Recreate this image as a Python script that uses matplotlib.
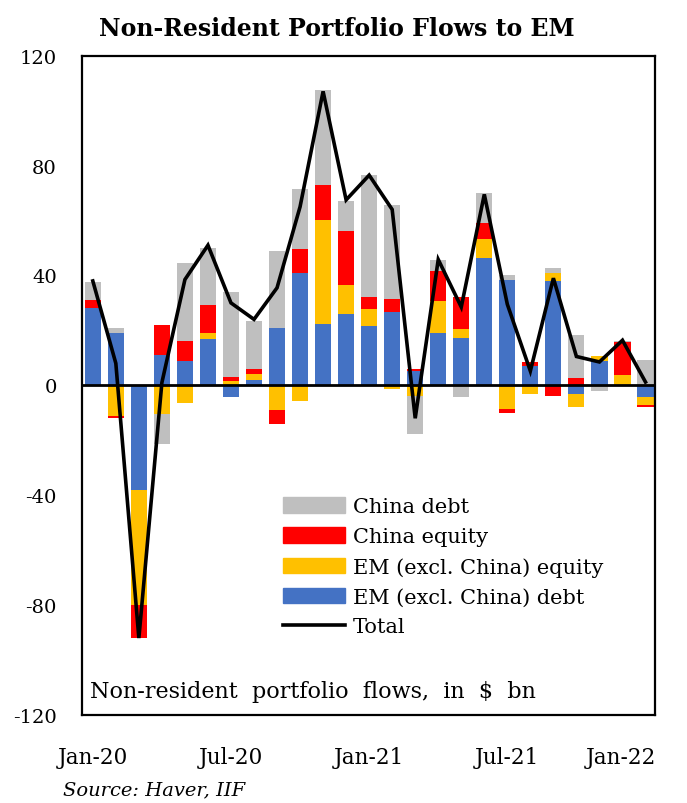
import numpy as np
import matplotlib
matplotlib.use("Agg")
import matplotlib.pyplot as plt
import matplotlib.transforms as mtransforms
from matplotlib.patches import Patch
from matplotlib.lines import Line2D

plt.rcParams["font.family"] = ["DejaVu Serif"]

# Monthly non-resident portfolio flows, $ bn (Jan-20 .. Jan-22)
months = ["Jan-20", "Feb-20", "Mar-20", "Apr-20", "May-20", "Jun-20", "Jul-20",
          "Aug-20", "Sep-20", "Oct-20", "Nov-20", "Dec-20", "Jan-21", "Feb-21",
          "Mar-21", "Apr-21", "May-21", "Jun-21", "Jul-21", "Aug-21", "Sep-21",
          "Oct-21", "Nov-21", "Dec-21", "Jan-22"]
em_debt = [28, 19, -38, 11, 9, 16.7, -4.2, 2, 21, 41, 22.2, 25.8, 21.6, 26.7,
           5.2, 19.2, 17.3, 46.4, 38.3, 7, 37.9, -3, 9, 0, -4.2]
em_equity = [0, -11, -42, -10.5, -6.3, 2.2, 1.5, 2, -9, -5.7, 37.9, 10.6, 6.3, -1.5,
             -3.9, 11.5, 3.3, 6.7, -8.7, -3.3, 3, -4.8, 1.5, 3.6, -2.8]
china_equity = [3, -1, -12, 11, 7, 10.2, 1.5, 2, -5, 8.7, 13, 19.7, 4.3, 4.8,
                0.8, 10.9, 11.6, 6.1, -1.5, 1.5, -3.9, 2.7, 0, 12.1, -0.8]
china_debt = [6.5, 2, 0, -11, 28.7, 21, 31, 17.4, 28, 21.8, 34.5, 10.9, 44.5, 34,
              -14, 4.2, -4.2, 10.8, 1.7, 0, 1.8, 15.8, -2, 0.6, 9.1]
total = [38, 8, -92, 1, 38.5, 51, 30, 24, 35.5, 65, 107, 67.5, 76.5, 64,
         -12, 45.8, 28.5, 69.5, 29.5, 5.2, 39, 10.5, 8.5, 16.4, 1.2]

tick_labels = ["Jan-20", "Jul-20", "Jan-21", "Jul-21", "Jan-22"]

series = [("EM (excl. China) debt", em_debt, "#4472C4"),
          ("EM (excl. China) equity", em_equity, "#FFC000"),
          ("China equity", china_equity, "#FF0000"),
          ("China debt", china_debt, "#BFBFBF")]

fig = plt.figure(figsize=(6.87, 8.04), dpi=100)
ax = fig.add_axes([0.119, 0.1095, 0.834, 0.82])

x = np.arange(len(months))
pos_base = np.zeros(len(months))
neg_base = np.zeros(len(months))
for name, vals, col in series:
    v = np.array(vals, dtype=float)
    p = np.where(v > 0, v, 0)
    n = np.where(v < 0, v, 0)
    ax.bar(x, p, bottom=pos_base, width=0.7, color=col, linewidth=0)
    ax.bar(x, n, bottom=neg_base, width=0.7, color=col, linewidth=0)
    pos_base += p
    neg_base += n

ax.axhline(0, color="black", lw=2, zorder=3)
ax.plot(x, total, color="black", lw=2.6, zorder=4, solid_joinstyle="miter")

ax.set_xlim(-0.48, 24.4)
ax.set_ylim(-120, 120)
ax.set_yticks([-120, -80, -40, 0, 40, 80, 120])
ax.set_yticklabels(["-120", "-80", "-40", "0", "40", "80", "120"])
ax.set_xticks([0, 6, 12, 18, 24])
ax.set_xticklabels(tick_labels)
ax.tick_params(axis="both", length=0)
ax.tick_params(axis="y", pad=18, labelsize=14)
ax.tick_params(axis="x", pad=22, labelsize=15.5)
# last label sits pulled in toward the plot edge, as in the source chart
last = ax.get_xticklabels()[-1]
last.set_transform(last.get_transform() +
                   mtransforms.ScaledTranslation(-0.25, 0, fig.dpi_scale_trans))
for s in ax.spines.values():
    s.set_linewidth(1.6)
    s.set_color("black")

handles = [Patch(color="#BFBFBF", label="China debt"),
           Patch(color="#FF0000", label="China equity"),
           Patch(color="#FFC000", label="EM (excl. China) equity"),
           Patch(color="#4472C4", label="EM (excl. China) debt"),
           Line2D([0], [0], color="black", lw=2.6, label="Total")]
ax.legend(handles=handles, loc="upper left", bbox_to_anchor=(0.351, 0.33),
          frameon=False, fontsize=15, handlelength=3.0, handleheight=0.77,
          handletextpad=0.35, labelspacing=0.52, borderpad=0, borderaxespad=0)

ax.text(0.014, 0.036, "Non-resident  portfolio  flows,  in  $  bn",
        transform=ax.transAxes, fontsize=16, va="center", ha="left")

fig.text(0.49, 0.964, "Non-Resident Portfolio Flows to EM", fontsize=17,
         fontweight="bold", ha="center", va="center")
fig.text(0.092, 0.017, "Source: Haver, IIF", fontsize=14, style="italic",
         ha="left", va="center")

fig.savefig("out.png", dpi=100)
